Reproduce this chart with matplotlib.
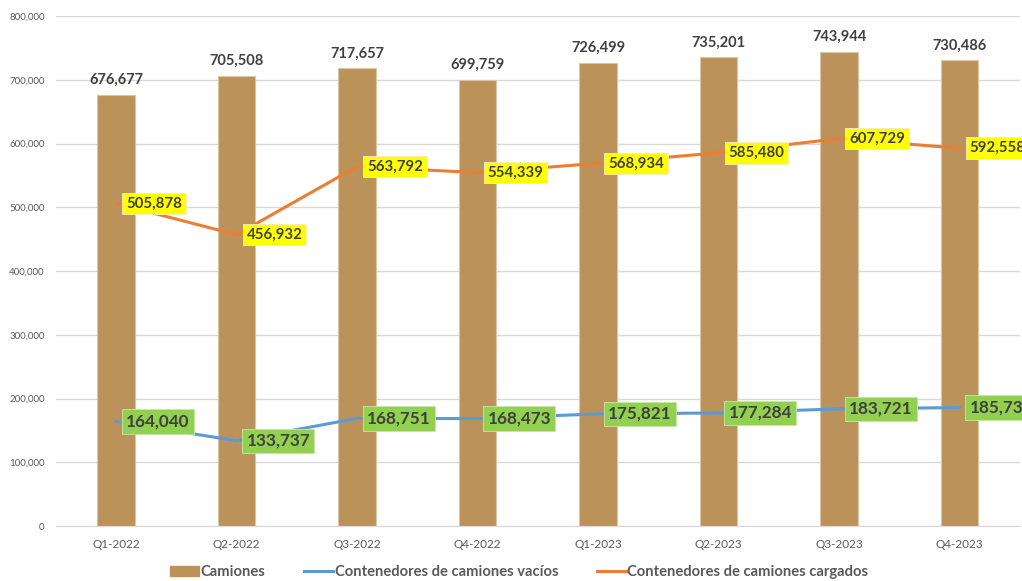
import matplotlib
matplotlib.use("Agg")
import matplotlib.pyplot as plt
from matplotlib.patches import Patch
from matplotlib.lines import Line2D
from matplotlib.ticker import FuncFormatter, MultipleLocator

categories = ["Q1-2022", "Q2-2022", "Q3-2022", "Q4-2022",
              "Q1-2023", "Q2-2023", "Q3-2023", "Q4-2023"]
camiones = [676677, 705508, 717657, 699759, 726499, 735201, 743944, 730486]
vacios = [164040, 133737, 168751, 168473, 175821, 177284, 183721, 185739]
cargados = [505878, 456932, 563792, 554339, 568934, 585480, 607729, 592558]

plt.rcParams['font.family'] = ['Lato', 'DejaVu Sans']

fig = plt.figure(figsize=(10.22, 5.81), dpi=100)
ax = fig.add_axes([55.75 / 1022, 55 / 581, (1019.75 - 55.75) / 1022, 510 / 581])

x = list(range(len(categories)))
bar_c = '#BB935A'
blue = '#5B9BD5'
orange = '#ED7D31'
txt = '#404040'

ax.bar(x, camiones, width=0.315, color=bar_c, edgecolor='#D8C6A6', linewidth=0.8, zorder=2)
ax.plot(x, vacios, color=blue, lw=2.2, zorder=3, solid_capstyle='round')
ax.plot(x, cargados, color=orange, lw=2.2, zorder=3, solid_capstyle='round')

for xi, v in zip(x, camiones):
    ax.annotate(f"{v:,}", (xi, v), xytext=(0, 8), textcoords='offset pixels',
                ha='center', va='bottom', fontsize=10.5, fontweight='bold', color=txt, zorder=5)

for xi, v in zip(x, cargados):
    ax.annotate(f"{v:,}", (xi, v), xytext=(10, 0), textcoords='offset pixels',
                ha='left', va='center', fontsize=10.8, fontweight='bold', color=txt, zorder=6,
                bbox=dict(boxstyle='square,pad=0.25', fc='#FFFF00', ec='#F0F0C0', lw=0.6),
                annotation_clip=False)

for xi, v in zip(x, vacios):
    ax.annotate(f"{v:,}", (xi, v), xytext=(10, 0), textcoords='offset pixels',
                ha='left', va='center', fontsize=12.3, fontweight='bold', color=txt, zorder=6,
                bbox=dict(boxstyle='square,pad=0.24', fc='#92D050', ec='#C8E6A8', lw=0.6),
                annotation_clip=False)

ax.set_xlim(-0.5, len(categories) - 0.5)
ax.set_ylim(0, 800000)
ax.yaxis.set_major_locator(MultipleLocator(100000))
ax.yaxis.set_major_formatter(FuncFormatter(lambda v, p: f"{int(v):,}"))
ax.set_xticks(x)
ax.set_xticklabels(categories)
ax.tick_params(axis='y', labelsize=7, colors='#595959', length=0, pad=8)
ax.tick_params(axis='x', labelsize=8.5, colors='#595959', length=0, pad=9)
ax.grid(axis='y', color='#D9D9D9', lw=1, zorder=0)
ax.set_axisbelow(True)
for s in ['top', 'right', 'left']:
    ax.spines[s].set_visible(False)
ax.spines['bottom'].set_color('#D9D9D9')

handles = [Patch(facecolor=bar_c, edgecolor=bar_c),
           Line2D([0], [0], color=blue, lw=2.2),
           Line2D([0], [0], color=orange, lw=2.2)]
labels = ["Camiones", "Contenedores de camiones vacíos", "Contenedores de camiones cargados"]
leg = fig.legend(handles, labels, loc='center', bbox_to_anchor=(0.508, 9 / 581), ncol=3,
                 frameon=False, fontsize=10.6, handlelength=2.0, handletextpad=0.1,
                 columnspacing=2.6)
for t in leg.get_texts():
    t.set_color('#595959')
    t.set_fontweight('bold')

fig.savefig("out.png", dpi=100)
